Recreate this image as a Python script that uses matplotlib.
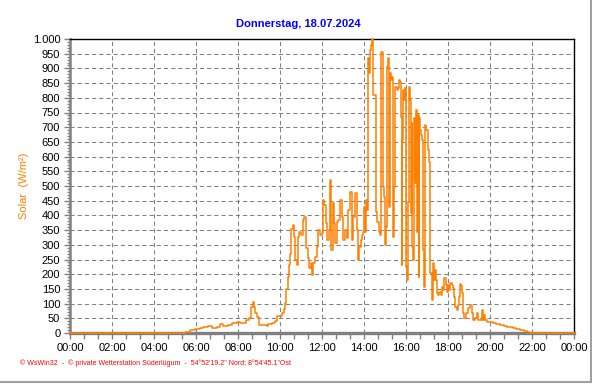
import matplotlib
matplotlib.use("Agg")
import matplotlib.pyplot as plt
from matplotlib.lines import Line2D
from matplotlib.ticker import MultipleLocator

plt.rcParams['font.family'] = ['Liberation Sans', 'DejaVu Sans']

# ---- data (hours of day, W/m²) ----
time_h = [0.0, 5.40, 5.48, 5.71, 5.95, 6.19, 6.35, 6.59, 6.75, 6.98, 7.14, 7.30, 7.54, 7.70,
          7.94, 8.10, 8.25, 8.38, 8.54, 8.62, 8.70, 8.76, 8.83, 8.92, 9.02, 9.21, 9.37,
          9.44, 9.60, 9.76, 9.87, 10.08, 10.17, 10.24, 10.30, 10.36, 10.42, 10.48, 10.53,
          10.60, 10.67, 10.71, 10.79, 10.84, 10.92, 11.00, 11.08, 11.16, 11.24, 11.32,
          11.40, 11.48, 11.52, 11.59, 11.67, 11.75, 11.83, 11.90, 11.98, 12.06, 12.11,
          12.19, 12.25, 12.32, 12.38, 12.43, 12.51, 12.57, 12.62, 12.70, 12.78, 12.86,
          12.94, 13.02, 13.10, 13.17, 13.25, 13.33, 13.41, 13.49, 13.57, 13.65, 13.70,
          13.78, 13.84, 13.90, 13.94, 14.02, 14.06, 14.10, 14.16, 14.19, 14.23, 14.27,
          14.32, 14.36, 14.40, 14.44, 14.56, 14.57, 14.64, 14.70, 14.76, 14.79, 14.83,
          14.89, 14.92, 14.97, 15.00, 15.04, 15.08, 15.13, 15.16, 15.20, 15.24, 15.30,
          15.35, 15.40, 15.43, 15.46, 15.51, 15.56, 15.60, 15.67, 15.71, 15.75, 15.79,
          15.83, 15.87, 15.92, 15.97, 16.02, 16.06, 16.11, 16.16, 16.19, 16.22, 16.27,
          16.30, 16.35, 16.40, 16.44, 16.48, 16.52, 16.56, 16.60, 16.63, 16.67, 16.71,
          16.76, 16.83, 16.87, 16.90, 16.95, 17.03, 17.06, 17.11, 17.15, 17.16, 17.22,
          17.30, 17.33, 17.38, 17.43, 17.48, 17.54, 17.59, 17.65, 17.70, 17.76, 17.81,
          17.89, 17.95, 18.02, 18.06, 18.11, 18.17, 18.24, 18.30, 18.35, 18.41, 18.46,
          18.52, 18.57, 18.62, 18.65, 18.70, 18.75, 18.86, 18.95, 19.05, 19.12, 19.20,
          19.28, 19.36, 19.43, 19.52, 19.60, 19.65, 19.71, 19.76, 19.84, 20.00, 20.16,
          20.30, 20.48, 20.65, 20.80, 20.95, 21.10, 21.25, 21.43, 21.60, 21.75, 21.90,
          24.0]
solar_wm2 = [0, 0, 5, 10, 14, 18, 22, 25, 18, 22, 32, 25, 26, 35,
             39, 35, 35, 44, 50, 90, 107, 90, 67, 53, 26, 26, 25,
             29, 35, 41, 58, 67, 80, 101, 150, 190, 230, 270, 355,
             367, 328, 248, 231, 328, 345, 335, 384, 396, 288, 254,
             220, 238, 197, 238, 260, 293, 350, 335, 340, 452, 436,
             374, 316, 350, 520, 282, 442, 374, 306, 379, 384, 452,
             396, 316, 350, 323, 418, 480, 316, 396, 476, 350, 248,
             293, 316, 335, 345, 430, 345, 452, 418, 934, 883, 962,
             979, 985, 1000, 809, 809, 413, 379, 345, 334, 764, 957,
             957, 498, 464, 299, 362, 906, 906, 934, 430, 883, 860,
             872, 328, 498, 838, 838, 826, 832, 860, 855, 735, 231,
             656, 826, 792, 832, 225, 180, 447, 838, 792, 407, 713,
             294, 249, 730, 509, 758, 345, 741, 192, 730, 690, 673,
             656, 283, 157, 707, 690, 690, 622, 583, 583, 204, 112,
             238, 180, 214, 180, 135, 129, 141, 129, 158, 146, 186,
             163, 141, 163, 146, 169, 163, 152, 124, 90, 78, 95,
             124, 165, 160, 135, 67, 50, 67, 84, 95, 67, 44,
             50, 67, 44, 44, 78, 44, 61, 44, 39, 39, 33,
             30, 27, 24, 22, 19, 16, 13, 10, 7, 5, 0,
             0]

x_ticks = list(range(0, 25, 2))
x_labels = ["00:00", "02:00", "04:00", "06:00", "08:00", "10:00", "12:00",
            "14:00", "16:00", "18:00", "20:00", "22:00", "00:00"]
y_ticks = list(range(0, 1001, 50))
y_labels = ["1.000" if v == 1000 else str(v) for v in y_ticks]

title = "Donnerstag, 18.07.2024"
ylabel = "Solar  (W/m²)"
footer = "© WsWin32  -  © private Wetterstation Süderlügum  -  54°52'19.2\" Nord; 8°54'45.1\"Ost"

W, H = 592, 384
fig = plt.figure(figsize=(W / 100, H / 100), dpi=100)
fig.patch.set_facecolor("white")
ax = fig.add_axes([70 / W, (H - 333) / H, (574 - 70) / W, (333 - 39) / H])

orange = "#FF8000"
grid_c = "#808080"

ax.plot(time_h, solar_wm2, color=orange, lw=1.1, drawstyle="steps-post",
        zorder=4, clip_on=False)

ax.set_xlim(0, 24)
ax.set_ylim(0, 1000)

ax.set_xticks(x_ticks)
ax.set_xticklabels(x_labels)
ax.xaxis.set_minor_locator(MultipleLocator(2 / 3))
ax.set_yticks(y_ticks)
ax.set_yticklabels(y_labels)
ax.yaxis.set_minor_locator(MultipleLocator(10))

ax.tick_params(axis="both", which="major", labelsize=8, length=4, width=1,
               color=grid_c, direction="out")
ax.tick_params(axis="x", which="major", pad=3)
ax.tick_params(axis="y", which="major", pad=3)
ax.tick_params(axis="x", which="minor", length=4, width=1, color=grid_c)
ax.tick_params(axis="y", which="minor", length=2, width=1, color=grid_c)

for v in y_ticks:
    ax.axhline(v, color=grid_c, lw=0.75, ls=(0, (4, 2.9)), zorder=1)
for h in x_ticks:
    ax.axvline(h, color=grid_c, lw=0.75, ls=(0, (4, 2.9)), zorder=1)

ax.spines["top"].set_color("black")
ax.spines["right"].set_color("black")
ax.spines["top"].set_linewidth(1.0)
ax.spines["right"].set_linewidth(1.0)
ax.spines["left"].set_color(grid_c)
ax.spines["bottom"].set_color(grid_c)
ax.spines["left"].set_linewidth(1.8)
ax.spines["bottom"].set_linewidth(2.4)

fig.text(298 / W, 1 - 24 / H, title, color="#0000FF", fontsize=8,
         fontweight="bold", ha="center", va="center")
fig.text(24 / W, 1 - 186 / H, ylabel, color=orange, fontsize=8,
         rotation=90, ha="center", va="center")
fig.text(20 / W, 1 - 363 / H, footer, color="#FF0000", fontsize=5,
         ha="left", va="center")

fig.add_artist(Line2D([590.5 / W, 590.5 / W], [1 - 382 / H, 1.0],
                      color="#A0A0A0", lw=1.5, transform=fig.transFigure))
fig.add_artist(Line2D([0, 590.5 / W], [1 - 382 / H, 1 - 382 / H],
                      color="#A0A0A0", lw=1.5, transform=fig.transFigure))

fig.savefig("out.png", dpi=100)
